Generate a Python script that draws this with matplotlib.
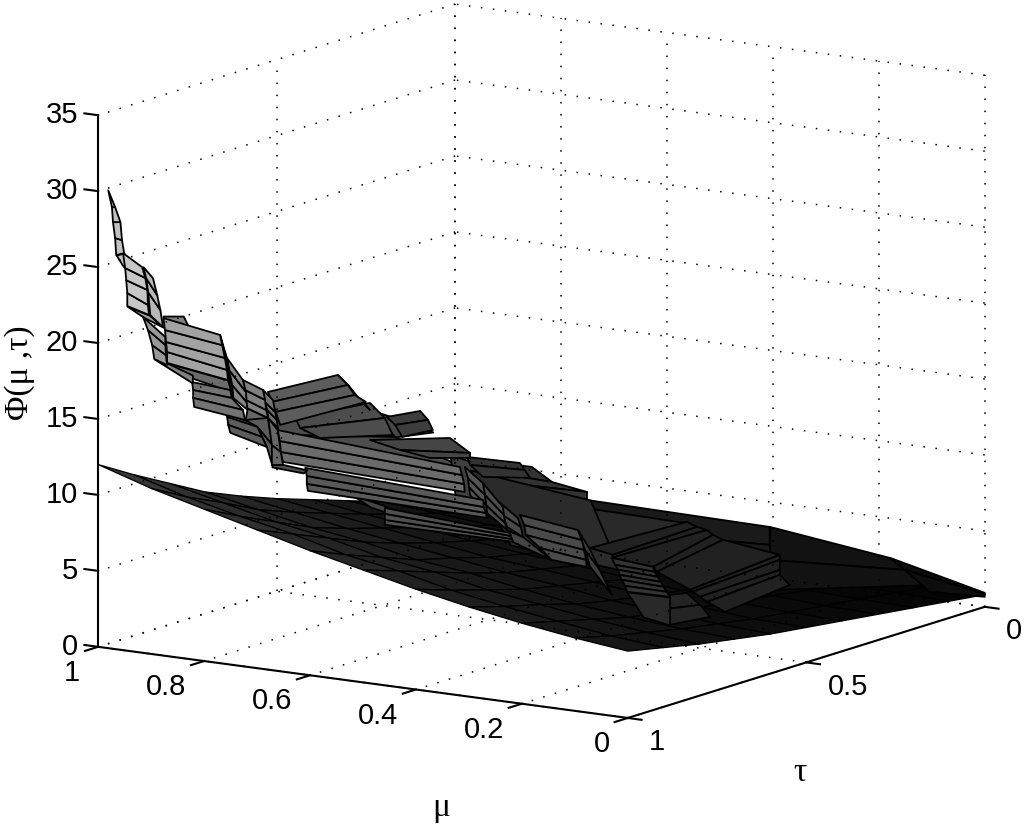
import matplotlib
matplotlib.use("Agg")
import matplotlib.pyplot as plt
import numpy as np
from mpl_toolkits.mplot3d import proj3d

mu_ticks = [0, 0.2, 0.4, 0.6, 0.8, 1]
mu_tick_labels = ["0", "0.2", "0.4", "0.6", "0.8", "1"]
tau_ticks = [0, 0.5, 1]
tau_tick_labels = ["0", "0.5", "1"]
z_ticks = [0, 5, 10, 15, 20, 25, 30, 35]

# lower surface, rows are mu, columns are tau
low_mu = [0, 0.1, 0.2, 0.3, 0.4, 0.5, 0.6, 0.7, 0.8, 0.9, 1]
low_tau = [0, 0.1, 0.2, 0.3, 0.4, 0.5, 0.6, 0.7, 0.8, 0.9, 1]
low_phi = [
    [0.8, 1.1, 1.4, 1.7, 2.0, 2.3, 2.6, 3.0, 3.4, 3.9, 4.4],
    [0.9, 1.2, 1.5, 1.8, 2.1, 2.4, 2.8, 3.2, 3.7, 4.2, 4.8],
    [1.0, 1.3, 1.6, 2.0, 2.3, 2.7, 3.1, 3.5, 4.1, 4.7, 5.3],
    [1.1, 1.5, 1.8, 2.2, 2.6, 3.0, 3.4, 3.9, 4.6, 5.2, 5.9],
    [1.2, 1.6, 2.0, 2.5, 2.9, 3.4, 3.9, 4.4, 5.1, 5.8, 6.6],
    [1.4, 1.9, 2.3, 2.8, 3.3, 3.8, 4.3, 5.0, 5.8, 6.6, 7.4],
    [1.5, 2.0, 2.5, 3.1, 3.6, 4.1, 4.8, 5.4, 6.3, 7.2, 8.2],
    [1.7, 2.3, 2.8, 3.4, 4.0, 4.6, 5.3, 6.1, 7.1, 8.1, 9.1],
    [1.8, 2.5, 3.1, 3.7, 4.4, 5.1, 5.8, 6.6, 7.7, 8.8, 10.0],
    [2.0, 2.7, 3.4, 4.1, 4.8, 5.6, 6.4, 7.3, 8.5, 9.6, 10.9],
    [2.2, 3.0, 3.7, 4.5, 5.3, 6.1, 7.0, 8.0, 9.3, 10.6, 12.0],
]

# stepped surface, one entry per strip, back to front
strip_tau = [0.3, 0.1, 0.0, 0.5, 0.35, 0.7, 0.6, 0.5, 0.65, 0.55, 0.62, 0.65, 0.7, 0.75, 0.75, 0.87,
             0.3, 0.4, 0.42, 0.45, 0.5, 0.55, 0.55, 0.62, 0.7, 0.7, 0.6, 0.55, 0.65, 0.7,
             0.75, 0.75, 0.75, 0.75, 0.73, 0.73, 0.85, 0.82, 0.85, 0.85, 0.85, 0.85,
             0.88, 0.94, 0.92, 0.94, 0.96, 0.96, 1.0, 0.85]
strip_mu = [
    [[.549, .204], [.524, .204], [.449, .194]],
    [[.338, .112], [.338, .084], [.329, .018]],
    [[.179, 0], [.151, 0], [.104, 0]],
    [[.616, .518], [.620, .480], [.616, .414], [.565, .414]],
    [[.679, .340], [.509, .326]],
    [[.878, .689], [.859, .642], [.821, .500]],
    [[.605, .511], [.596, .502]],
    [[.635, .408], [.559, .352]],
    [[.723, .662], [.675, .604]],
    [[.607, .507], [.601, .498], [.577, .488]],
    [[.743, .592], [.686, .554], [.630, .554]],
    [[.691, .628], [.675, .613], [.662, .604]],
    [[.830, .689], [.821, .661], [.783, .646]],
    [[.716, .697], [.697, .674], [.684, .655]],
    [[.848, .716], [.840, .697], [.833, .684], [.825, .663]],
    [[.965, .927], [.961, .914]],
    [[.543, .360], [.500, .341], [.502, .322], [.424, .311], [.417, .292],
     [.354, .185], [.349, .185], [.336, .185], [.322, .185], [.288, .166]],
    [[.363, .293], [.344, .268], [.325, .249]],
    [[.393, .312], [.362, .312]],
    [[.401, .323], [.395, .320], [.389, .314], [.386, .308], [.382, .303], [.376, .297], [.372, .291]],
    [[.431, .408], [.418, .390], [.408, .367]],
    [[.532, .501], [.520, .447]],
    [[.507, .398], [.499, .390], [.496, .386], [.469, .382], [.447, .381]],
    [[.497, .464], [.492, .458], [.484, .454]],
    [[.476, .438], [.472, .436], [.470, .434], [.468, .430]],
    [[.510, .476], [.504, .472], [.502, .470], [.500, .468]],
    [[.790, .728], [.756, .728]],
    [[.762, .526], [.762, .524], [.762, .522], [.762, .520]],
    [[.845, .509], [.842, .508], [.842, .504], [.840, .502]],
    [[.874, .808], [.874, .815]],
    [[.929, .891], [.925, .868]],
    [[.887, .848], [.891, .848]],
    [[.891, .848], [.868, .840], [.850, .840]],
    [[.925, .868], [.923, .859], [.919, .850]],
    [[.861, .843], [.854, .837], [.854, .833]],
    [[.843, .499], [.839, .495], [.837, .491], [.833, .490]],
    [[.971, .856], [.924, .848]],
    [[.944, .872], [.942, .869], [.942, .848], [.940, .844]],
    [[.790, .771], [.786, .767], [.782, .764], [.780, .762]],
    [[.828, .790], [.824, .786], [.822, .784], [.821, .780]],
    [[.858, .828], [.854, .822], [.848, .821], [.846, .819]],
    [[.871, .858], [.864, .854], [.860, .850], [.856, .846]],
    [[.951, .903], [.975, .903]],
    [[.986, .944], [.955, .918]],
    [[.969, .927], [.960, .927], [.952, .926], [.948, .924]],
    [[.955, .937], [.950, .929], [.946, .923], [.942, .918]],
    [[.993, .978], [.980, .976]],
    [[.980, .944], [.976, .938], [.974, .934], [.972, .933], [.972, .931]],
    [[.981, .981], [.974, .968], [.972, .958], [.968, .955], [.966, .951]],
    [[.978, .871], [.975, .867], [.973, .862], [.971, .858], [.971, .856]],
]
strip_phi = [
    [[6.66, 6.50], [4.81, 5.32], [2.53, 3.72]],
    [[4.41, 3.43], [2.24, 2.77], [0.31, 2.09]],
    [[2.39, 0.92], [1.73, 0.86], [0.50, 0.66]],
    [[10.45, 10.44], [9.77, 9.63], [9.13, 9.28], [8.51, 8.76]],
    [[6.76, 6.57], [4.07, 6.63]],
    [[14.63, 14.86], [12.41, 13.30], [11.61, 11.79]],
    [[11.55, 11.01], [8.97, 8.75]],
    [[9.70, 8.78], [5.12, 4.44]],
    [[14.34, 13.96], [12.78, 13.44]],
    [[11.05, 11.12], [10.55, 10.70], [9.88, 10.23]],
    [[12.04, 12.88], [11.65, 12.07], [11.39, 11.74]],
    [[14.02, 14.71], [13.57, 14.19], [12.84, 13.57]],
    [[13.67, 15.32], [13.05, 14.46], [12.57, 13.41]],
    [[17.40, 16.63], [16.83, 15.95], [16.23, 15.38]],
    [[15.66, 17.40], [15.05, 16.83], [14.42, 16.23], [13.60, 15.87]],
    [[20.99, 21.17], [20.09, 20.31]],
    [[3.53, 6.10], [3.28, 5.86], [3.07, 5.75], [2.84, 5.47], [2.55, 5.24],
     [1.66, 4.75], [1.55, 4.42], [1.28, 3.76], [1.01, 3.43], [0.52, 2.86]],
    [[1.88, 2.47], [1.12, 1.80], [0.22, 1.10]],
    [[2.22, 2.26], [0.72, 0.42]],
    [[4.64, 4.41], [4.21, 4.10], [3.91, 3.80], [3.59, 3.49], [3.28, 3.19], [2.91, 2.89], [2.54, 2.59]],
    [[6.70, 5.49], [5.45, 4.26], [4.38, 2.72]],
    [[6.60, 6.28], [5.87, 5.02]],
    [[7.70, 7.22], [7.08, 6.60], [6.43, 5.96], [5.70, 5.32], [5.02, 4.87]],
    [[9.05, 8.22], [8.28, 7.65], [7.53, 7.01]],
    [[11.05, 9.64], [10.28, 9.13], [9.63, 8.61], [9.11, 8.17]],
    [[11.94, 11.05], [11.24, 10.28], [10.66, 9.63], [10.14, 9.11]],
    [[8.06, 7.63], [7.43, 7.23]],
    [[6.97, 6.43], [6.58, 6.24], [6.18, 6.05], [5.86, 5.87]],
    [[9.95, 9.41], [9.43, 8.95], [8.91, 8.58], [8.46, 8.26]],
    [[10.57, 10.35], [10.24, 10.12]],
    [[13.90, 13.62], [13.66, 13.27]],
    [[14.43, 13.95], [13.62, 13.82]],
    [[13.62, 13.95], [13.27, 12.22], [12.03, 10.90]],
    [[13.66, 13.27], [13.14, 12.65], [12.64, 12.03]],
    [[13.74, 13.03], [12.00, 11.62], [10.68, 10.78]],
    [[13.03, 12.21], [12.33, 11.70], [11.62, 11.13], [10.98, 10.61]],
    [[17.73, 17.14], [16.96, 16.39]],
    [[16.38, 16.19], [15.86, 15.68], [15.34, 14.99], [14.76, 14.35]],
    [[16.80, 16.22], [16.03, 15.45], [15.52, 14.95], [15.00, 14.43]],
    [[17.28, 16.80], [16.64, 16.16], [15.99, 15.51], [15.47, 15.00]],
    [[18.59, 17.28], [17.82, 16.51], [16.86, 15.86], [16.01, 15.35]],
    [[20.04, 18.59], [19.09, 17.82], [18.11, 16.84], [17.14, 16.01]],
    [[18.04, 17.47], [18.19, 16.95]],
    [[22.06, 21.66], [21.48, 20.99]],
    [[21.27, 20.15], [20.46, 19.63], [19.51, 18.97], [18.61, 18.32]],
    [[24.77, 24.13], [24.07, 23.05], [23.16, 22.09], [21.67, 20.99]],
    [[25.53, 25.74], [24.87, 24.74]],
    [[25.72, 24.97], [24.76, 24.28], [23.97, 23.51], [23.13, 22.53], [22.28, 21.88]],
    [[30.15, 30.15], [29.07, 29.10], [28.09, 28.16], [27.06, 26.99], [25.95, 26.15]],
    [[20.65, 20.04], [19.88, 19.39], [19.10, 18.57], [18.45, 17.80], [17.73, 17.14]],
]
strip_shade = [0.10, 0.07, 0.05, 0.20, 0.16, 0.30, 0.25, 0.17, 0.28, 0.20, 0.27, 0.24, 0.30, 0.27, 0.36, 0.50,
               0.13, 0.14, 0.16, 0.20, 0.24, 0.27, 0.29, 0.29, 0.30, 0.33, 0.27, 0.31, 0.35, 0.30,
               0.38, 0.40, 0.36, 0.36, 0.40, 0.42, 0.42, 0.45, 0.45, 0.50, 0.52, 0.55,
               0.50, 0.62, 0.60, 0.72, 0.76, 0.78, 0.76, 0.64]

plt.rcParams["font.family"] = ["Liberation Sans", "DejaVu Sans"]

fig = plt.figure(figsize=(10.24, 8.26), dpi=100)
side = 1300.0
ax = fig.add_axes([-126.1 / 1024, -202.6 / 826, side / 1024, side / 826],
                  projection="3d", computed_zorder=False)
ax.set_proj_type("ortho")
ax.view_init(elev=11.8, azim=123.3)
ax.set_xlim(0, 1)
ax.set_ylim(0, 1)
ax.set_zlim(0, 35)
ax.set_box_aspect((1, 1.026, 0.857), zoom=0.79)
ax.set_xticks([])
ax.set_yticks([])
ax.set_zticks([])
ax.set_axis_off()


def label(x, y, z, s, **kw):
    # text placed through the 3d projection, as plain 2d text
    px, py, _ = proj3d.proj_transform(x, y, z, ax.get_proj())
    ax.text2D(px, py, s, transform=ax.transData, **kw)


dots = (0, (1, 6.9))
grid = dict(color="k", lw=1.1, ls=dots)
for z in z_ticks:
    ax.plot([1, 1], [0, 1], [z, z], **grid)
    ax.plot([0, 1], [0, 0], [z, z], **grid)
for m in mu_ticks:
    ax.plot([m, m], [0, 1], [0, 0], **grid)
    ax.plot([m, m], [0, 0], [0, 35], **grid)
for t in tau_ticks:
    ax.plot([0, 1], [t, t], [0, 0], **grid)
    ax.plot([1, 1], [t, t], [0, 35], **grid)

low_m, low_t = np.meshgrid(low_mu, low_tau, indexing="ij")
low_z = np.array(low_phi)
ax.plot_surface(low_m, low_t, low_z, rstride=1, cstride=1, shade=False,
                facecolors=plt.cm.gray(low_z / 44), edgecolor="k", linewidth=0.9)

for tau, mu, phi, gray in zip(strip_tau, strip_mu, strip_phi, strip_shade):
    m = np.array(mu)
    ax.plot_surface(m, np.full(m.shape, tau), np.array(phi), rstride=1, cstride=1,
                    color=str(gray), shade=False, edgecolor="k", linewidth=1.3)

axis = dict(color="k", lw=1.5)
ax.plot([1, 1], [1, 1], [0, 35], **axis)
ax.plot([0, 1], [1, 1], [0, 0], **axis)
ax.plot([0, 0], [0, 1], [0, 0], **axis)

fs = 21
for z in z_ticks:
    ax.plot([1, 1.026], [1, 1], [z, z], **axis)
    label(1.038, 1, z - 0.18, str(z), ha="right", va="center", fontsize=fs)
for m, s in zip(mu_ticks, mu_tick_labels):
    ax.plot([m, m], [1, 1.037], [0, 0], **axis)
    label(m, 1.05, -1.35, s, ha="right", va="center", fontsize=fs)
for t, s in zip(tau_ticks, tau_tick_labels):
    ax.plot([0, -0.026], [t, t], [0, 0], **axis)
    label(-0.04, t, -1.4, s, ha="left", va="center", fontsize=fs)

serif = ["Liberation Serif", "DejaVu Serif"]
fig.text(441 / 1024, 1 - 808 / 826, "μ", family=serif, fontsize=24, ha="center", va="center")
fig.text(800 / 1024, 1 - 773 / 826, "τ", family=serif, fontsize=24, ha="center", va="center")
fig.text(20 / 1024, 1 - 373 / 826, "Φ(μ ,τ)", family=serif, fontsize=24, rotation=90,
         ha="center", va="center")

fig.savefig("out.png", dpi=100)
